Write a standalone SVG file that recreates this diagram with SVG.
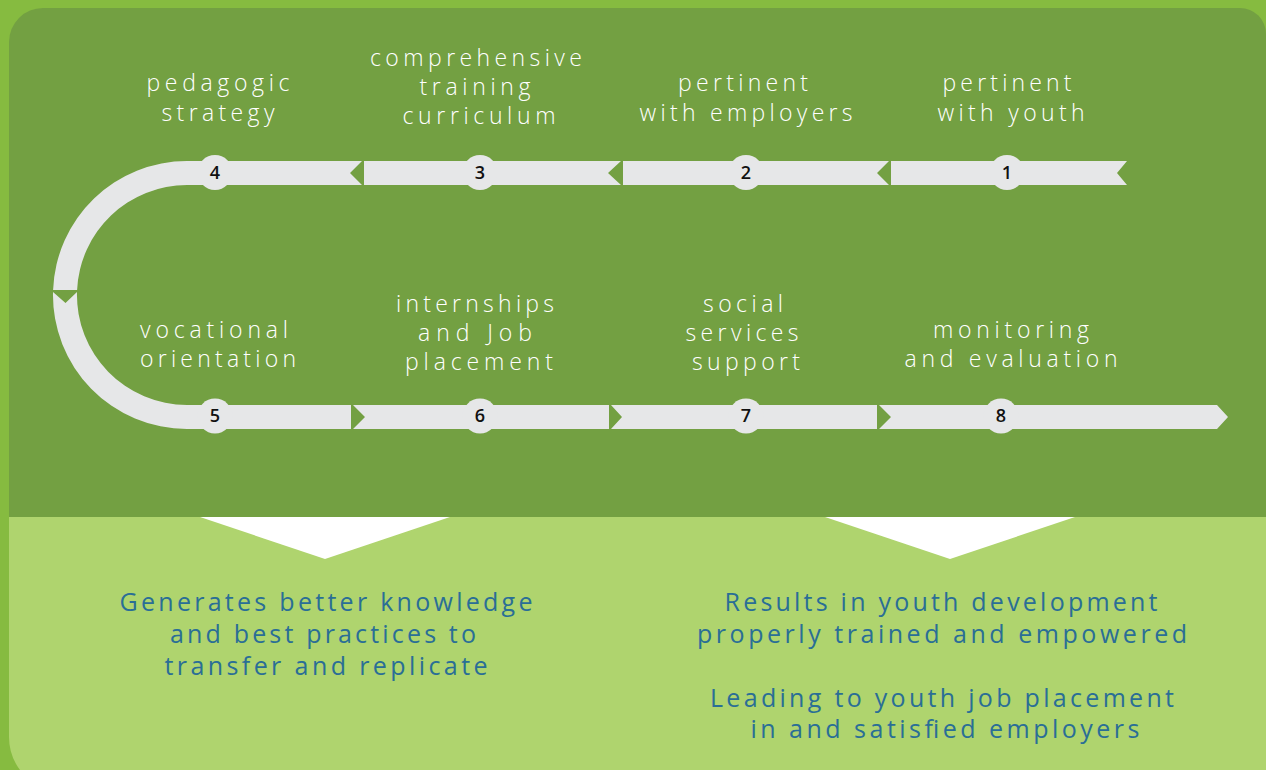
<svg xmlns="http://www.w3.org/2000/svg" width="1266" height="770" viewBox="0 0 1266 770">
<style>
.track{fill:#E6E7E8}
.num{font-family:"Open Sans","Liberation Sans",sans-serif;font-size:18px;font-weight:600;fill:#111;text-anchor:middle}
.lbl{font-family:"Open Sans","DejaVu Sans",sans-serif;font-size:23px;font-weight:300;fill:#fff;text-anchor:middle}
.res{font-family:"Open Sans","DejaVu Sans",sans-serif;font-size:25px;font-weight:400;fill:#2A6E96;text-anchor:middle}
</style>
<rect x="0" y="0" width="1266" height="770" fill="#86BB40"/>
<path d="M9,42 A34,34 0 0 1 43,8 H1240 A26,26 0 0 1 1266,34 V517 H9 Z" fill="#73A042"/>
<path d="M9,517 H1266 V770 H20 A55,55 0 0 1 9,737 Z" fill="#AFD46E"/>
<polygon points="200,517 450,517 325,559" fill="#fff"/>
<polygon points="825,517 1075,517 950,559" fill="#fff"/>
<g id="connectors">
<path class="track" d="M362,161 H187 A134,134 0 0 0 53.1,290 H77.1 A110,110 0 0 1 187,185 H362 L350,173 Z"/>
<path class="track" d="M364,161 H621 L608,173 L621,185 H364 Z"/>
<path class="track" d="M623,161 H889 L877,173 L889,185 H623 Z"/>
<path class="track" d="M891,161 H1127 L1117,173 L1127,185 H891 Z"/>
<path class="track" d="M53,292 A134,134 0 0 0 187,429 H351 V405 H187 A110,110 0 0 1 77,292 L65.5,303 Z"/>
<path class="track" d="M353,405 H609 V429 H353 L365,417 Z"/>
<path class="track" d="M611,405 H877 V429 H611 L622,417 Z"/>
<path class="track" d="M879,405 H1217 L1228,417 L1217,429 H879 L891,417 Z"/>
</g>
<g id="n1"><circle class="track" cx="1007" cy="172.5" r="17.5"/><text class="num" x="1007" y="179">1</text>
<text class="lbl" x="1007" y="91" textLength="129" lengthAdjust="spacing">pertinent</text><text class="lbl" x="1011" y="121" textLength="147" lengthAdjust="spacing">with youth</text></g>
<g id="n2"><circle class="track" cx="746" cy="172.5" r="17.5"/><text class="num" x="746" y="179">2</text>
<text class="lbl" x="743" y="91" textLength="130" lengthAdjust="spacing">pertinent</text><text class="lbl" x="746" y="121" textLength="213" lengthAdjust="spacing">with employers</text></g>
<g id="n3"><circle class="track" cx="480" cy="172.5" r="17.5"/><text class="num" x="480" y="179">3</text>
<text class="lbl" x="476" y="66" textLength="212" lengthAdjust="spacing">comprehensive</text><text class="lbl" x="475" y="95" textLength="111" lengthAdjust="spacing">training</text><text class="lbl" x="479" y="124" textLength="153" lengthAdjust="spacing">curriculum</text></g>
<g id="n4"><circle class="track" cx="215" cy="172.5" r="17.5"/><text class="num" x="215" y="179">4</text>
<text class="lbl" x="218" y="91" textLength="143" lengthAdjust="spacing">pedagogic</text><text class="lbl" x="218" y="121" textLength="113" lengthAdjust="spacing">strategy</text></g>
<g id="n5"><circle class="track" cx="215" cy="416" r="17.5"/><text class="num" x="215" y="422">5</text>
<text class="lbl" x="214" y="338" textLength="148" lengthAdjust="spacing">vocational</text><text class="lbl" x="218" y="367" textLength="156" lengthAdjust="spacing">orientation</text></g>
<g id="n6"><circle class="track" cx="480" cy="416" r="17.5"/><text class="num" x="480" y="422">6</text>
<text class="lbl" x="475" y="312" textLength="158" lengthAdjust="spacing">internships</text><text class="lbl" x="475" y="341" textLength="114" lengthAdjust="spacing">and Job</text><text class="lbl" x="479" y="370" textLength="148" lengthAdjust="spacing">placement</text></g>
<g id="n7"><circle class="track" cx="746" cy="416" r="17.5"/><text class="num" x="746" y="422">7</text>
<text class="lbl" x="743" y="312" textLength="80" lengthAdjust="spacing">social</text><text class="lbl" x="742" y="341" textLength="113" lengthAdjust="spacing">services</text><text class="lbl" x="746" y="370" textLength="108" lengthAdjust="spacing">support</text></g>
<g id="n8"><circle class="track" cx="1001" cy="416" r="17.5"/><text class="num" x="1001" y="422">8</text>
<text class="lbl" x="1011" y="338" textLength="156" lengthAdjust="spacing">monitoring</text><text class="lbl" x="1011" y="367" textLength="213" lengthAdjust="spacing">and evaluation</text></g>
<g id="result-left">
<text class="res" x="326" y="611" textLength="413" lengthAdjust="spacing">Generates better knowledge</text>
<text class="res" x="323" y="643" textLength="306" lengthAdjust="spacing">and best practices to</text>
<text class="res" x="326" y="675" textLength="323" lengthAdjust="spacing">transfer and replicate</text>
</g>
<g id="result-right">
<text class="res" x="941" y="611" textLength="433" lengthAdjust="spacing">Results in youth development</text>
<text class="res" x="942" y="643" textLength="490" lengthAdjust="spacing">properly trained and empowered</text>
<text class="res" x="942" y="707" textLength="464" lengthAdjust="spacing">Leading to youth job placement</text>
<text class="res" x="945" y="738" textLength="389" lengthAdjust="spacing">in and satisfied employers</text>
</g>
</svg>
